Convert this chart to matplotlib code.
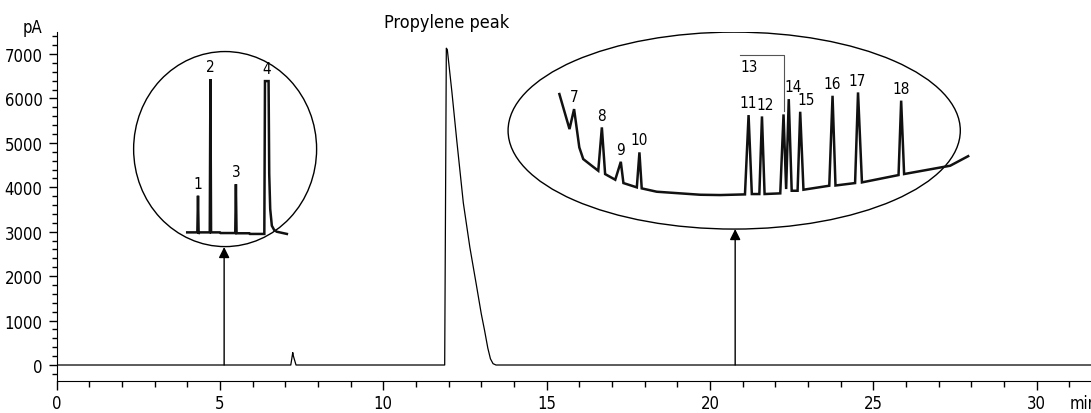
import matplotlib
matplotlib.use("Agg")
import matplotlib.pyplot as plt
from matplotlib.patches import Ellipse
from matplotlib.ticker import MultipleLocator

plt.rcParams['font.family'] = ['DejaVu Sans']
plt.rcParams['font.stretch'] = 'condensed'

# Traza principal (min, pA)
main_t = [0, 7.17, 7.23, 7.25, 7.33, 11.88, 11.93, 11.96, 12.1, 12.25, 12.45,
          12.65, 12.85, 13.0, 13.1, 13.2, 13.28, 13.36, 13.45, 31.7]
main_y = [0, 0, 280, 200, 0, 0, 7130, 7100, 6150, 5050, 3650,
          2650, 1800, 1150, 780, 380, 140, 30, 0, 0]

# Ampliación izquierda (picos 1-4)
left_t = [4.00, 4.31, 4.33, 4.35, 4.37, 4.69, 4.71, 4.73, 5.00, 5.02, 5.47,
          5.49, 5.51, 5.90, 5.92, 6.36, 6.38, 6.49, 6.51, 6.54, 6.59, 6.66,
          6.74, 7.05]
left_y = [2985, 2985, 3810, 2950, 2985, 2985, 6435, 2985, 2985, 2970, 2970,
          4070, 2965, 2965, 2950, 2950, 6390, 6390, 4300, 3510, 3135, 3040,
          3000, 2950]

# Ampliación derecha (picos 7-18)
right_t = [15.39, 15.70, 15.84, 16.00, 16.12, 16.38, 16.58, 16.69, 16.79,
           17.10, 17.27, 17.35, 17.76, 17.84, 17.91, 18.37, 19.70, 20.31,
           21.07, 21.18, 21.28, 21.51, 21.59, 21.67, 22.15, 22.25, 22.33,
           22.41, 22.50, 22.68, 22.76, 22.86, 23.65, 23.75, 23.84, 24.44,
           24.53, 24.65, 25.77, 25.85, 25.94, 27.35, 27.90]
right_y = [6098, 5310, 5760, 4897, 4635, 4485, 4372, 5348, 4297,
           4170, 4574, 4095, 3998, 4786, 3975, 3900, 3832, 3825,
           3840, 5625, 3848, 3848, 5595, 3848, 3863, 5640, 3960,
           5985, 3922, 3922, 5700, 3945, 4035, 6060, 4040, 4095,
           6135, 4110, 4275, 5950, 4298, 4485, 4700]

# Etiquetas de picos
peak_ids = ['1', '2', '3', '4', '7', '8', '9', '10', '11', '12', '14', '15', '16', '17', '18']
peak_t = [4.33, 4.71, 5.49, 6.43, 15.84, 16.69, 17.27, 17.84, 21.18, 21.59,
          22.41, 22.76, 23.75, 24.53, 25.85]
peak_y = [3810, 6435, 4070, 6390, 5760, 5348, 4574, 4786, 5625, 5595,
          5985, 5700, 6060, 6135, 5950]
peak_dx = [0, 0, 0, 0, 0, 0, 0, 0, 0, 2, 3, 4.5, 0, -1, 0]

ticks_x = [0, 5, 10, 15, 20, 25, 30]
ticks_y = [0, 1000, 2000, 3000, 4000, 5000, 6000, 7000]


fig = plt.figure(figsize=(10.91, 4.14), dpi=100)
ax = fig.add_axes([0.0518, 0.0773, 0.9482, 0.843])

ax.plot(main_t, main_y, color='black', lw=0.9)
ax.plot(left_t, left_y, color='#111111', lw=1.8, solid_joinstyle='miter')
ax.plot(right_t, right_y, color='#111111', lw=1.8, solid_joinstyle='miter')

# Elipses de ampliación
ax.add_patch(Ellipse((5.16, 4860), 5.6, 4390, fill=False, ec='black', lw=1.0))
ax.add_patch(Ellipse((20.74, 5276), 13.84, 4433, fill=False, ec='black', lw=1.0))

# Flechas
for x_arr, y_arr in [(5.13, 2655), (20.77, 3060)]:
    ax.annotate('', xy=(x_arr, y_arr), xytext=(x_arr, 0),
                arrowprops=dict(arrowstyle='-|>', color='black', lw=1.0,
                                mutation_scale=16, shrinkA=0, shrinkB=0))

for pid, t, y, dx in zip(peak_ids, peak_t, peak_y, peak_dx):
    ax.annotate(pid, xy=(t, y), xytext=(dx, 3.5), textcoords='offset points',
                ha='center', va='bottom', fontsize=11)

# Pico 13 con corchete
ax.plot([20.92, 22.25, 22.25], [6982, 6982, 5722], color='#555555', lw=0.8)
ax.text(20.92, 6728, '13', ha='left', va='center', fontsize=11)

ax.text(11.94, 1.013, 'Propylene peak', transform=ax.get_xaxis_transform(),
        ha='center', va='baseline', fontsize=13)
ax.text(-0.73, 0.999, 'pA', transform=ax.get_xaxis_transform(),
        ha='center', va='baseline', fontsize=12, clip_on=False)
ax.text(31.0, -0.037, 'min', transform=ax.get_xaxis_transform(),
        ha='left', va='top', fontsize=12, clip_on=False)

ax.set_xlim(0, 31.66)
ax.set_ylim(-360, 7495)
ax.set_xticks(ticks_x)
ax.set_yticks(ticks_y)
ax.xaxis.set_minor_locator(MultipleLocator(1))
ax.yaxis.set_minor_locator(MultipleLocator(200))
ax.tick_params(axis='x', which='major', length=6.5, width=1, labelsize=12, pad=3)
ax.tick_params(axis='x', which='minor', length=4, width=1)
ax.tick_params(axis='y', which='major', length=6, width=1, labelsize=12, pad=4)
ax.tick_params(axis='y', which='minor', length=3.5, width=1)
ax.spines['top'].set_visible(False)
ax.spines['right'].set_visible(False)

fig.savefig('out.png', dpi=100)
